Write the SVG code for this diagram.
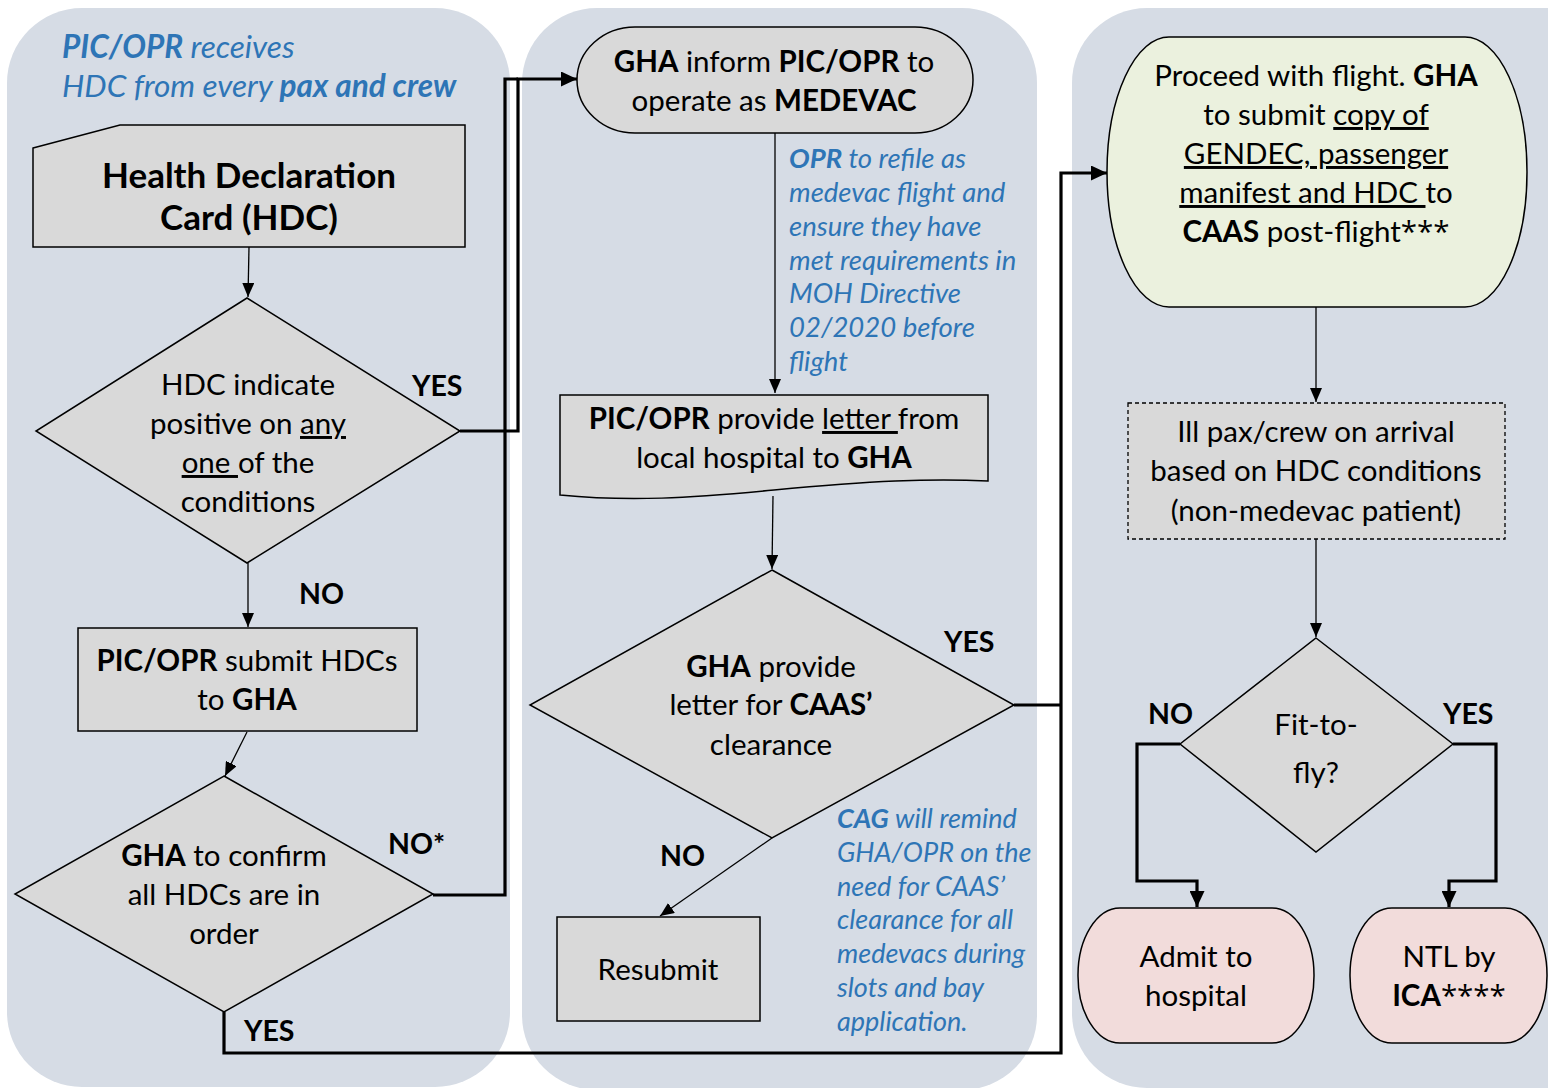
<svg xmlns="http://www.w3.org/2000/svg" width="1548" height="1088" viewBox="0 0 1548 1088">
<style>
text{font-family:Lato,"Liberation Sans",sans-serif;fill:#000}
.t{font-size:29.5px;text-anchor:middle}
.h{font-size:35px;font-weight:bold;text-anchor:middle}
.lbl{font-size:28.5px;font-weight:bold}
.note{font-style:italic;fill:#2E75B6}
.note tspan{fill:#2E75B6}
.b{font-weight:bold}
.u{text-decoration:underline}
.ast{font-family:"Open Sans","Noto Sans",sans-serif}
.panel{fill:#D6DCE5}
.gray{fill:#D9D9D9;stroke:#000;stroke-width:1.5}
.green{fill:#EBF1DE;stroke:#000;stroke-width:1.5}
.pink{fill:#F2DCDB;stroke:#000;stroke-width:1.5}
.thin{fill:none;stroke:#000;stroke-width:1.3}
.thick{fill:none;stroke:#000;stroke-width:3.2}
</style>
<defs>
<marker id="a" viewBox="0 0 14 12" refX="14" refY="6" markerWidth="14" markerHeight="12" markerUnits="userSpaceOnUse" orient="auto"><path d="M0,0 L14,6 L0,12 z" fill="#000"/></marker>
<marker id="A" viewBox="0 0 16 15" refX="16" refY="7.5" markerWidth="16" markerHeight="15" markerUnits="userSpaceOnUse" orient="auto"><path d="M0,0 L16,7.5 L0,15 z" fill="#000"/></marker>
</defs>
<rect width="1548" height="1088" fill="#fff"/>
<g id="panels">
<rect class="panel" x="7" y="8" width="503" height="1079" rx="75" ry="75"/>
<rect class="panel" x="522" y="8" width="515" height="1082" rx="75" ry="75"/>
<rect class="panel" x="1072" y="8" width="560" height="1080" rx="75" ry="75"/>
</g>
<g id="connectors">
<path class="thin" d="M249,247 L248,297" marker-end="url(#a)"/>
<path class="thin" d="M248,563 V627" marker-end="url(#a)"/>
<path class="thin" d="M247,732 L225,776" marker-end="url(#a)"/>
<path class="thick" d="M460,431 H518 V79 H577" marker-end="url(#A)"/>
<path class="thick" d="M433,895 H505 V79 H518"/>
<path class="thin" d="M775,133 V393" marker-end="url(#a)"/>
<path class="thin" d="M773,496 L772,569" marker-end="url(#a)"/>
<path class="thin" d="M772,838 L660,916" marker-end="url(#a)"/>
<path class="thick" d="M1014,705 H1061"/>
<path class="thick" d="M224,1012 V1053 H1061 V173 H1107" marker-end="url(#A)"/>
<path class="thin" d="M1316,307 V402" marker-end="url(#a)"/>
<path class="thin" d="M1316,539 V637" marker-end="url(#a)"/>
<path class="thick" d="M1180,744 H1137 V881 H1197 V907" marker-end="url(#A)"/>
<path class="thick" d="M1453,744 H1496 V881 H1449 V907" marker-end="url(#A)"/>
</g>
<g id="note-receives">
<text class="note" font-size="31.5" x="62" y="58"><tspan class="b">PIC/OPR</tspan> receives</text>
<text class="note" font-size="31.5" x="62" y="97">HDC from every <tspan class="b">pax and crew</tspan></text>
</g>
<g id="hdc-card">
<path class="gray" d="M33,148 L120,125 H465 V247 H33 Z"/>
<text class="h" x="249" y="188">Health Declaration</text>
<text class="h" x="249" y="230">Card (HDC)</text>
</g>
<g id="decision-positive">
<path class="gray" d="M247,298 L460,431 L247,563 L36,431 Z"/>
<text class="t" x="248" y="395">HDC indicate</text>
<text class="t" x="248" y="434">positive on <tspan class="u">any</tspan></text>
<text class="t" x="248" y="473"><tspan class="u">one </tspan>of the</text>
<text class="t" x="248" y="512">conditions</text>
</g>
<g id="submit-hdcs">
<rect class="gray" x="78" y="628" width="339" height="103"/>
<text class="t" x="247" y="671"><tspan class="b">PIC/OPR</tspan> submit HDCs</text>
<text class="t" x="247" y="710">to <tspan class="b">GHA</tspan></text>
</g>
<g id="decision-confirm">
<path class="gray" d="M224,776 L433,894 L224,1012 L15,894 Z"/>
<text class="t" x="224" y="866"><tspan class="b">GHA</tspan> to confirm</text>
<text class="t" x="224" y="905">all HDCs are in</text>
<text class="t" x="224" y="944">order</text>
</g>
<g id="labels-left">
<text class="lbl" x="412" y="396">YES</text>
<text class="lbl" x="299" y="604">NO</text>
<text class="lbl" x="388" y="854">NO*</text>
<text class="lbl" x="244" y="1041">YES</text>
</g>
<g id="medevac">
<rect class="gray" x="577" y="27" width="396" height="106" rx="58" ry="53"/>
<text class="t" x="774" y="72"><tspan class="b">GHA</tspan> inform <tspan class="b">PIC/OPR</tspan> to</text>
<text class="t" x="774" y="111">operate as <tspan class="b">MEDEVAC</tspan></text>
</g>
<g id="note-refile">
<text class="note" font-size="27.5" x="789" y="168"><tspan class="b">OPR</tspan> to refile as</text>
<text class="note" font-size="27.5" x="789" y="202">medevac flight and</text>
<text class="note" font-size="27.5" x="789" y="236">ensure they have</text>
<text class="note" font-size="27.5" x="789" y="270">met requirements in</text>
<text class="note" font-size="27.5" x="789" y="303">MOH Directive</text>
<text class="note" font-size="27.5" x="789" y="337">02/2020 before</text>
<text class="note" font-size="27.5" x="789" y="371">flight</text>
</g>
<g id="letter">
<path class="gray" d="M560,395 H988 V481 C930,478 870,481 774,490 C690,498 630,502 560,495 Z"/>
<text class="t" x="774" y="429"><tspan class="b">PIC/OPR</tspan> provide <tspan class="u">letter </tspan>from</text>
<text class="t" x="774" y="468">local hospital to <tspan class="b">GHA</tspan></text>
</g>
<g id="decision-clearance">
<path class="gray" d="M772,570 L1014,705 L772,838 L530,705 Z"/>
<text class="t" x="771" y="677"><tspan class="b">GHA</tspan> provide</text>
<text class="t" x="771" y="715">letter for <tspan class="b">CAAS’</tspan></text>
<text class="t" x="771" y="755">clearance</text>
</g>
<g id="labels-mid">
<text class="lbl" x="944" y="652">YES</text>
<text class="lbl" x="660" y="866">NO</text>
</g>
<g id="resubmit">
<rect class="gray" x="557" y="917" width="203" height="104"/>
<text class="t" x="658" y="980">Resubmit</text>
</g>
<g id="note-cag">
<text class="note" font-size="27" x="837" y="828"><tspan class="b">CAG</tspan> will remind</text>
<text class="note" font-size="27" x="837" y="862">GHA/OPR on the</text>
<text class="note" font-size="27" x="837" y="896">need for CAAS’</text>
<text class="note" font-size="27" x="837" y="929">clearance for all</text>
<text class="note" font-size="27" x="837" y="963">medevacs during</text>
<text class="note" font-size="27" x="837" y="997">slots and bay</text>
<text class="note" font-size="27" x="837" y="1031">application.</text>
</g>
<g id="proceed">
<rect class="green" x="1107" y="37" width="420" height="270" rx="62" ry="135"/>
<text class="t" x="1316" y="86">Proceed with flight. <tspan class="b">GHA</tspan></text>
<text class="t" x="1316" y="125">to submit <tspan class="u">copy of</tspan></text>
<text class="t" x="1316" y="164"><tspan class="u">GENDEC, passenger</tspan></text>
<text class="t" x="1316" y="203"><tspan class="u">manifest and HDC </tspan>to</text>
<text class="t" x="1316" y="242"><tspan class="b">CAAS</tspan> post-flight<tspan class="ast">***</tspan></text>
</g>
<g id="ill-pax">
<rect x="1128" y="403" width="377" height="136" fill="#D9D9D9" stroke="#000" stroke-width="1.3" stroke-dasharray="4,3"/>
<text class="t" x="1316" y="442">Ill pax/crew on arrival</text>
<text class="t" x="1316" y="481">based on HDC conditions</text>
<text class="t" x="1316" y="521">(non-medevac patient)</text>
</g>
<g id="decision-fit">
<path class="gray" d="M1316,638 L1453,744 L1316,852 L1180,744 Z"/>
<text class="t" x="1316" y="735" font-size="38">Fit-to-</text>
<text class="t" x="1316" y="783" font-size="38">fly?</text>
</g>
<g id="labels-right">
<text class="lbl" x="1148" y="724">NO</text>
<text class="lbl" x="1443" y="724">YES</text>
</g>
<g id="admit">
<rect class="pink" x="1078" y="908" width="236" height="135" rx="42" ry="67"/>
<text class="t" x="1196" y="967">Admit to</text>
<text class="t" x="1196" y="1006">hospital</text>
</g>
<g id="ntl">
<rect class="pink" x="1350" y="908" width="197" height="135" rx="42" ry="67"/>
<text class="t" x="1449" y="967">NTL by</text>
<text class="t" x="1449" y="1006"><tspan class="b">ICA</tspan><tspan class="ast">****</tspan></text>
</g>
</svg>
